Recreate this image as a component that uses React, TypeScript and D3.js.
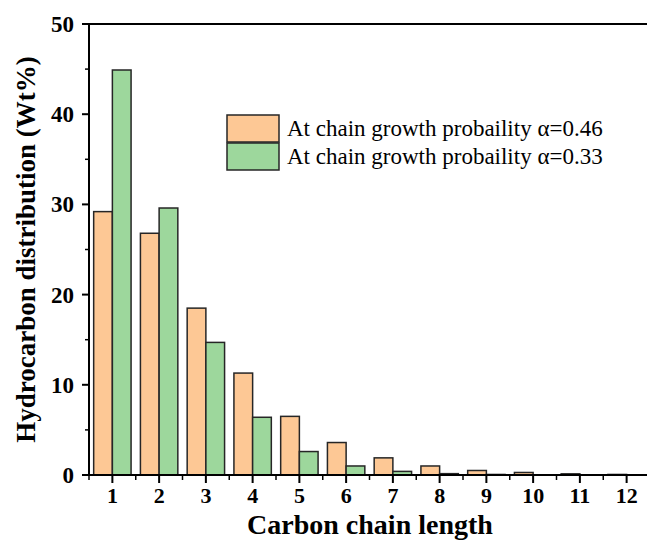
import React from "react";
import * as d3 from "d3";

// chain lengths and wt% for the two growth probabilities
const chainLengths = [1, 2, 3, 4, 5, 6, 7, 8, 9, 10, 11, 12];
const alpha046 = [29.2, 26.8, 18.5, 11.3, 6.5, 3.6, 1.9, 1.0, 0.5, 0.28, 0.13, 0.06];
const alpha033 = [44.9, 29.6, 14.7, 6.4, 2.6, 1.0, 0.4, 0.15, 0.06, 0.02, 0.01, 0.003];
const seriesNames = [
  "At chain growth probaility \u03b1=0.46",
  "At chain growth probaility \u03b1=0.33",
];
const seriesColors = ["#fdc895", "#9dd79c"];
const yTicks = [0, 10, 20, 30, 40, 50];
const yMinorTicks = [5, 15, 25, 35, 45];

export default function App() {
  const width = 647;
  const height = 541;
  const margin = { top: 24, right: -3, bottom: 66, left: 89 };
  const font = "Liberation Serif, Times New Roman, serif";

  /* ---------- scales ---------- */
  const x = d3.scaleLinear()
    .domain([0.5, 12.5])
    .range([margin.left, width - margin.right]);
  const step = x(2) - x(1);
  const barW = step * 0.4;

  const y = d3.scaleLinear()
    .domain([0, 50])
    .range([height - margin.bottom, margin.top]);

  const series = [alpha046, alpha033];
  const x0 = margin.left;
  const y0 = y(0);

  return (
    <svg
      width={width}
      height={height}
      style={{ position: "absolute", left: 0, top: 0, background: "#fff" }}
      fontFamily={font}
    >
      {/* bars */}
      {series.map((vals, si) =>
        vals.map((v, i) => (
          <rect
            key={`${si}-${i}`}
            x={x(chainLengths[i]) - barW + si * barW}
            y={y(v)}
            width={barW}
            height={y0 - y(v)}
            fill={seriesColors[si]}
            stroke="#262626"
            strokeWidth={1.5}
          />
        ))
      )}

      {/* axes frame */}
      <line x1={x0} x2={width} y1={margin.top} y2={margin.top} stroke="#000" strokeWidth={2} />
      <line x1={x0} x2={x0} y1={margin.top - 1} y2={y0 + 1} stroke="#000" strokeWidth={2} />
      <line x1={x0 - 1} x2={width} y1={y0} y2={y0} stroke="#000" strokeWidth={2} />

      {/* y ticks */}
      {yTicks.map(t => (
        <g key={t}>
          <line x1={x0 - 7} x2={x0} y1={y(t)} y2={y(t)} stroke="#000" strokeWidth={2} />
          <text x={x0 - 15} y={y(t)} dy="0.35em" textAnchor="end" fontSize={23} fontWeight="bold">
            {t}
          </text>
        </g>
      ))}
      {yMinorTicks.map(t => (
        <line key={t} x1={x0 - 4} x2={x0} y1={y(t)} y2={y(t)} stroke="#000" strokeWidth={1.5} />
      ))}

      {/* x ticks */}
      {chainLengths.map(c => (
        <g key={c}>
          <line x1={x(c)} x2={x(c)} y1={y0} y2={y0 + 8} stroke="#000" strokeWidth={2} />
          <line x1={x(c - 0.5)} x2={x(c - 0.5)} y1={y0} y2={y0 + 5} stroke="#000" strokeWidth={1.5} />
          <text x={x(c)} y={y0 + 28} textAnchor="middle" fontSize={22} fontWeight="bold">
            {c}
          </text>
        </g>
      ))}

      {/* axis titles */}
      <text x={370} y={534} textAnchor="middle" fontSize={28} fontWeight="bold">
        Carbon chain length
      </text>
      <text
        transform={`translate(35,${(margin.top + y0) / 2}) rotate(-90)`}
        textAnchor="middle"
        fontSize={27}
        fontWeight="bold"
      >
        Hydrocarbon distribution (Wt%)
      </text>

      {/* legend */}
      {seriesNames.map((name, i) => (
        <g key={name} transform={`translate(227,${115 + i * 28})`}>
          <rect width={52} height={27} fill={seriesColors[i]} stroke="#262626" strokeWidth={1.5} />
          <text x={60} y={21} fontSize={23}>
            {name}
          </text>
        </g>
      ))}
    </svg>
  );
}
